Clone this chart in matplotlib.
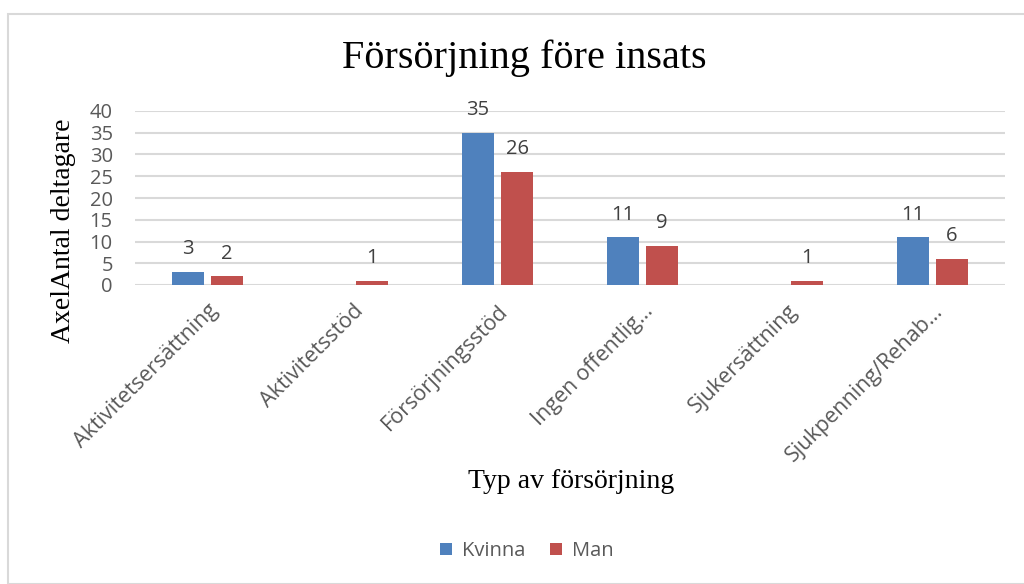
import matplotlib.pyplot as plt
import numpy as np
from matplotlib.patches import Rectangle

categories = ['Aktivitetsersättning', 'Aktivitetsstöd', 'Försörjningsstöd',
              'Ingen offentlig…', 'Sjukersättning', 'Sjukpenning/Rehab…']
kvinna = [3, None, 35, 11, None, 11]
man = [2, 1, 26, 9, 1, 6]
yticks = [0, 5, 10, 15, 20, 25, 30, 35, 40]

blue = '#4f81bd'
red = '#c0504d'
grey_txt = '#595959'
sans = ['Open Sans', 'DejaVu Sans']
serif = ['Liberation Serif', 'DejaVu Serif']

fig = plt.figure(figsize=(10.24, 5.84), dpi=100)
fig.patches.append(Rectangle((8 / 1024, 0), 1.0, 1 - 14 / 584, transform=fig.transFigure,
                             fill=False, edgecolor='#d9d9d9', linewidth=1.5))
ax = fig.add_axes([135 / 1024, 1 - 285 / 584, 870 / 1024, 174 / 584])

x = np.arange(len(categories))
w = 0.22
off = 0.135
kv = [np.nan if v is None else v for v in kvinna]
b1 = ax.bar(x - off, kv, w, color=blue, label='Kvinna', zorder=3)
b2 = ax.bar(x + off, man, w, color=red, label='Man', zorder=3)

for bars, vals in ((b1, kvinna), (b2, man)):
    for rect, v in zip(bars, vals):
        if v is None:
            continue
        ax.annotate(str(v), (rect.get_x() + rect.get_width() / 2, v), xytext=(0, 9),
                    textcoords='offset points', ha='center', va='bottom',
                    fontsize=14.5, color='#404040', family=sans)

ax.set_xlim(-0.5, len(categories) - 0.5)
ax.set_ylim(0, 40)
ax.set_yticks(yticks)
ax.yaxis.grid(True, color='#d9d9d9', linewidth=1.5, zorder=0)
ax.set_axisbelow(True)
for s in ax.spines.values():
    s.set_visible(False)
ax.tick_params(length=0)
ax.tick_params(axis='y', pad=16)
ax.set_yticklabels([str(t) for t in yticks], fontsize=14.5, color=grey_txt, family=sans)
ax.set_xticks(x)
ax.set_xticklabels(categories, rotation=45, ha='right', rotation_mode='anchor',
                   fontsize=15.5, color=grey_txt, family=sans)
ax.tick_params(axis='x', pad=11)

fig.text(524 / 1024, 1 - 58 / 584, 'Försörjning före insats', ha='center', va='center',
         fontsize=29, family=serif, color='black')
fig.text(64 / 1024, 1 - 231 / 584, 'AxelAntal deltagare', ha='center', va='center',
         rotation=90, fontsize=20, family=serif, color='black')
fig.text(571 / 1024, 1 - 482 / 584, 'Typ av försörjning', ha='center', va='center',
         fontsize=20, family=serif, color='black')

fig.legend(handles=[b1, b2], labels=['Kvinna', 'Man'], loc='center',
           bbox_to_anchor=(527 / 1024, 1 - 551 / 584), ncol=2, frameon=False,
           prop={'family': sans, 'size': 14.5}, handlelength=0.6, handleheight=0.6,
           handletextpad=0.5, columnspacing=1.2, labelcolor=grey_txt)

fig.savefig('out.png', dpi=100)
